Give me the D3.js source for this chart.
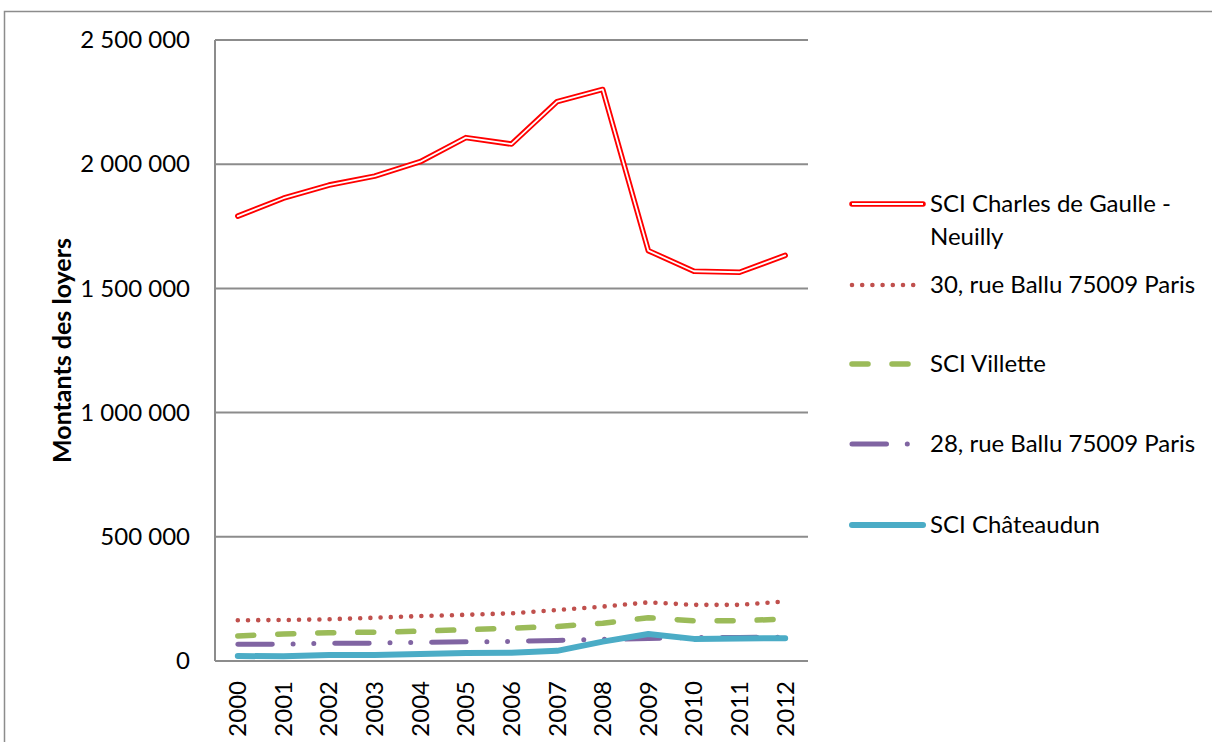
<!DOCTYPE html>
<html lang="fr">
<head>
  <meta charset="UTF-8">
  <title>Montants des loyers</title>
  <script src="https://d3js.org/d3.v7.min.js"></script>
  <style>
    html, body {
      margin: 0;
      background-color: #ffffff;
      overflow: hidden;
      font-family: Lato, 'Open Sans', sans-serif;
    }
  </style>
</head>
<body>
  <div id="chart"></div>

  <script type="text/javascript">
    const years = ['2000', '2001', '2002', '2003', '2004', '2005', '2006', '2007', '2008', '2009', '2010', '2011', '2012']
    const yTicks = [0, 500000, 1000000, 1500000, 2000000, 2500000]

    const seriesNames = [
      'SCI Charles de Gaulle - Neuilly',
      '30, rue Ballu 75009 Paris',
      'SCI Villette',
      '28, rue Ballu 75009 Paris',
      'SCI Châteaudun',
    ]

    const charlesDeGaulle = [1791000, 1863000, 1916000, 1952000, 2010000, 2107000, 2081000, 2252000, 2301000, 1652000, 1569000, 1565000, 1633000]
    const rueBallu30 = [164000, 165000, 168000, 174000, 181000, 186000, 192000, 205000, 219000, 236000, 226000, 226000, 240000]
    const villette = [101000, 109000, 114000, 116000, 120000, 126000, 132000, 139000, 152000, 174000, 162000, 162000, 169000]
    const rueBallu28 = [67000, 68000, 71000, 72000, 75000, 77000, 79000, 83000, 87000, 91000, 95000, 95000, 96000]
    const chateaudun = [20000, 19000, 24000, 24000, 28000, 32000, 33000, 41000, 78000, 109000, 89000, 91000, 92000]

    const seriesValues = [charlesDeGaulle, rueBallu30, villette, rueBallu28, chateaudun]

    // line look for each series (Excel style)
    const styles = [
      { color: '#ff0000', width: 5.5, dash: null, double: true },
      { color: '#c0504d', width: 4.6, dash: '0 10.2', double: false },
      { color: '#9bbb59', width: 5.5, dash: '16 24', double: false },
      { color: '#8064a2', width: 5, dash: '34.5 20.8 0 20.7 0 20.9', double: false },
      { color: '#4bacc6', width: 6, dash: null, double: false },
    ]

    const width = 1212
    const height = 742
    const plot = { left: 215, right: 808, top: 40, bottom: 661 }
    const gridColor = '#8c8c8c'

    const fmt = d3.formatLocale({ decimal: ',', thousands: '\u00a0', grouping: [3], currency: ['', ''] }).format(',d')

    const svg = d3.select('#chart').append('svg')
      .attr('width', width)
      .attr('height', height)

    // chart frame
    svg.append('rect')
      .attr('x', 4.5)
      .attr('y', 11.5)
      .attr('width', 1400)
      .attr('height', 900)
      .style('fill', 'none')
      .style('stroke', gridColor)
      .style('stroke-width', 1.5)

    const x = d3.scaleBand().domain(years).range([plot.left, plot.right]).padding(0)
    const y = d3.scaleLinear().domain([0, 2500000]).range([plot.bottom, plot.top])
    const cx = d => x(d) + x.bandwidth() / 2

    // gridlines
    svg.append('g')
      .selectAll('line')
      .data(yTicks)
      .enter()
      .append('line')
      .attr('x1', plot.left)
      .attr('x2', plot.right)
      .attr('y1', d => y(d))
      .attr('y2', d => y(d))
      .style('stroke', gridColor)
      .style('stroke-width', 2)

    svg.append('line')
      .attr('x1', plot.left)
      .attr('x2', plot.left)
      .attr('y1', plot.top)
      .attr('y2', plot.bottom)
      .style('stroke', gridColor)
      .style('stroke-width', 2)

    const yAxis = svg.append('g')
      .attr('transform', `translate(${plot.left},0)`)
      .call(d3.axisLeft(y).tickValues(yTicks).tickSize(0).tickPadding(25).tickFormat(fmt))
    yAxis.select('.domain').remove()
    yAxis.selectAll('text')
      .style('font-family', 'Lato, sans-serif')
      .style('font-size', '24px')
      .style('fill', '#000')

    const xAxis = svg.append('g')
      .attr('transform', `translate(0,${plot.bottom})`)
      .call(d3.axisBottom(x).tickSize(0))
    xAxis.select('.domain').remove()
    xAxis.selectAll('text')
      .attr('transform', 'rotate(-90)')
      .attr('x', -20)
      .attr('y', 0)
      .attr('dy', '0.35em')
      .style('text-anchor', 'end')
      .style('font-family', 'Lato, sans-serif')
      .style('font-size', '24px')
      .style('fill', '#000')

    // y title
    svg.append('text')
      .attr('transform', `translate(62,${(plot.top + plot.bottom) / 2}) rotate(-90)`)
      .attr('dy', '0.35em')
      .style('text-anchor', 'middle')
      .style('font-family', 'Lato, sans-serif')
      .style('font-weight', 700)
      .style('font-size', '25px')
      .text('Montants des loyers')

    const line = d3.line()
      .x((d, i) => cx(years[i]))
      .y(d => y(d))

    const drawLine = (g, values, st) => {
      g.append('path')
        .attr('d', line(values))
        .style('fill', 'none')
        .style('stroke', st.color)
        .style('stroke-width', st.width)
        .style('stroke-linecap', 'round')
        .style('stroke-linejoin', 'round')
        .style('stroke-dasharray', st.dash)
      if (st.double) {
        g.append('path')
          .attr('d', line(values))
          .style('fill', 'none')
          .style('stroke', '#fff')
          .style('stroke-width', 1.8)
          .style('stroke-linecap', 'round')
          .style('stroke-linejoin', 'round')
      }
    }

    // draw back to front so Châteaudun ends on top
    const seriesGroup = svg.append('g')
    seriesValues.forEach((values, i) => {
      drawLine(seriesGroup.append('g'), values, styles[i])
    })

    // legend
    const legendRows = [
      { lines: ['SCI Charles de Gaulle -', 'Neuilly'], y: 204 },
      { lines: ['30, rue Ballu 75009 Paris'], y: 285 },
      { lines: ['SCI Villette'], y: 364 },
      { lines: ['28, rue Ballu 75009 Paris'], y: 444 },
      { lines: ['SCI Châteaudun'], y: 525 },
    ]

    legendRows.forEach((row, i) => {
      const g = svg.append('g').attr('class', 'legend')
      const st = styles[i]
      const sample = [0, 1]
      const lx = d3.scaleLinear().domain([0, 1]).range([852, 923])
      const sampleLine = d3.line().x(d => lx(d)).y(() => row.y)
      g.append('path')
        .attr('d', sampleLine(sample))
        .style('fill', 'none')
        .style('stroke', st.color)
        .style('stroke-width', st.width)
        .style('stroke-linecap', 'round')
        .style('stroke-dasharray', st.dash)
      if (st.double) {
        g.append('path')
          .attr('d', sampleLine(sample))
          .style('fill', 'none')
          .style('stroke', '#fff')
          .style('stroke-width', 1.8)
      }
      row.lines.forEach((t, j) => {
        g.append('text')
          .attr('x', 930)
          .attr('y', row.y + j * 33)
          .attr('dy', '0.35em')
          .style('font-family', 'Lato, sans-serif')
          .style('font-size', '24px')
          .style('fill', '#000')
          .text(t)
      })
    })
  </script>
</body>
</html>
